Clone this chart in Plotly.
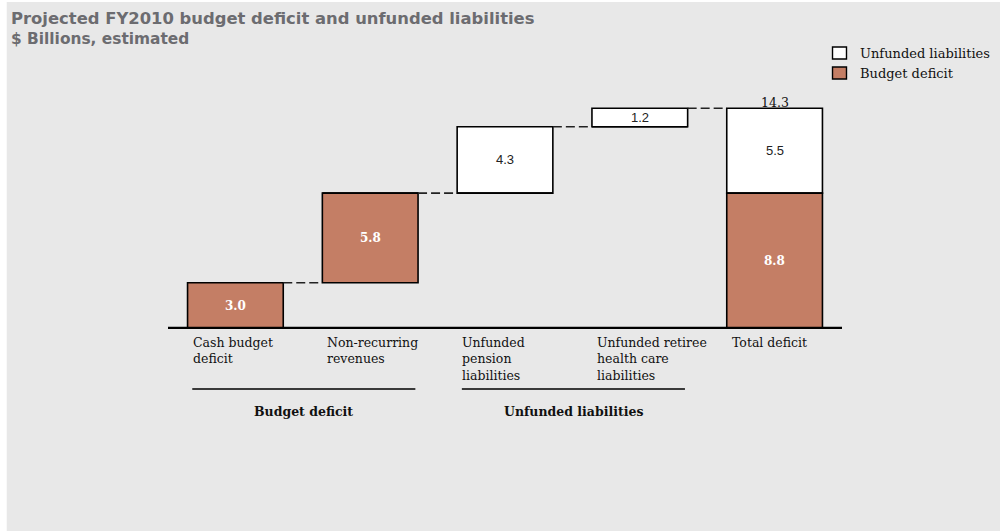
import plotly.graph_objects as go

# Waterfall steps (in $ billions)
categories = ["Cash budget<br>deficit", "Non-recurring<br>revenues", "Unfunded<br>pension<br>liabilities",
              "Unfunded retiree<br>health care<br>liabilities", "Total deficit"]
budget_deficit = [3.0, 5.8, 0.0, 0.0, 8.8]
unfunded_liabilities = [0.0, 0.0, 4.3, 1.2, 5.5]
total_label = "14.3"
groups = [("Budget deficit", 0, 1), ("Unfunded liabilities", 2, 3)]

BROWN = "#c47e65"
BG = "#e8e8e8"
TITLE_GRAY = "#6c6c70"
SERIF = "DejaVu Serif"
SANS = "Liberation Sans"
TITLE_FONT = "DejaVu Sans"
BAR_W = 0.71

# Plot-area geometry in pixels (used to place items outside the axes)
W, H = 1000, 531
ML, MR, MT, MB = 167.5, 157.5, 82, 202
PW, PH = W - ML - MR, H - MT - MB


def px_x(px):
    return (px - ML) / PW


def px_y(py):
    return (H - MB - py) / PH


n = len(categories)
x = list(range(n))

# Bases: the steps accumulate, the final bar stacks budget deficit under unfunded liabilities
budget_base, unfunded_base, tops = [], [], []
running = 0.0
for i in range(n):
    if i < n - 1:
        budget_base.append(running)
        unfunded_base.append(running + budget_deficit[i])
        running += budget_deficit[i] + unfunded_liabilities[i]
        tops.append(running)
    else:
        budget_base.append(0.0)
        unfunded_base.append(budget_deficit[i])
        tops.append(budget_deficit[i] + unfunded_liabilities[i])

series_styles = [("Unfunded liabilities", "white"), ("Budget deficit", BROWN)]

fig = go.Figure()
fig.add_trace(go.Bar(
    x=x, y=unfunded_liabilities, base=unfunded_base, width=BAR_W,
    name="Unfunded liabilities", showlegend=False,
    marker=dict(color="white", line=dict(color="black", width=1.6)),
    hoverinfo="skip",
))
fig.add_trace(go.Bar(
    x=x, y=budget_deficit, base=budget_base, width=BAR_W,
    name="Budget deficit", showlegend=False,
    marker=dict(color=BROWN, line=dict(color="black", width=1.6)),
    hoverinfo="skip",
))

# Dashed connectors between consecutive bars
for i in range(n - 1):
    fig.add_trace(go.Scatter(
        x=[i + BAR_W / 2, i + 1 - BAR_W / 2], y=[tops[i], tops[i]],
        mode="lines", line=dict(color="#222222", width=1.6, dash="9px,4px"),
        showlegend=False, hoverinfo="skip",
    ))

annotations = []
# Value labels inside bars
for i in range(n):
    if budget_deficit[i] > 0:
        annotations.append(dict(
            x=i, y=budget_base[i] + budget_deficit[i] / 2, text=f"<b>{budget_deficit[i]:.1f}</b>",
            showarrow=False, font=dict(family=SERIF, size=12, color="white"),
        ))
    if unfunded_liabilities[i] > 0:
        annotations.append(dict(
            x=i, y=unfunded_base[i] + unfunded_liabilities[i] / 2, text=f"{unfunded_liabilities[i]:.1f}",
            showarrow=False, font=dict(family=SANS, size=13, color="#222222"),
        ))
annotations.append(dict(
    x=n - 1, y=tops[-1], text=total_label, showarrow=False, yanchor="bottom", yshift=-4,
    font=dict(family=SERIF, size=12.5, color="#111111"),
))

# Category labels, left-aligned under each bar
for i, c in enumerate(categories):
    annotations.append(dict(
        x=i - BAR_W / 2, y=0, xref="x", yref="y", text=c, showarrow=False,
        xanchor="left", yanchor="top", align="left", xshift=3, yshift=-4,
        font=dict(family=SERIF, size=12.5, color="#111111"),
    ))

shapes = []
# Group brackets under the category labels
for name, a, b in groups:
    x0, x1 = a - 0.32, b + 0.335
    shapes.append(dict(type="line", xref="x", yref="paper", x0=x0, x1=x1,
                       y0=px_y(389), y1=px_y(389), line=dict(color="black", width=1.3)))
    annotations.append(dict(
        x=(x0 + x1) / 2, y=px_y(411), xref="x", yref="paper",
        text=f"<b>{name}</b>", showarrow=False, xanchor="center", yanchor="middle",
        font=dict(family=SERIF, size=12.5, color="#111111"),
    ))

# Baseline
shapes.append(dict(type="line", xref="x", yref="y", x0=-0.5, x1=n - 0.5, y0=0, y1=0,
                   line=dict(color="black", width=4.5), layer="above"))
# White edge strips around the panel
shapes.append(dict(type="rect", xref="paper", yref="paper", x0=px_x(-50), x1=px_x(6),
                   y0=px_y(600), y1=px_y(-50), fillcolor="white", line=dict(width=0), layer="below"))
shapes.append(dict(type="rect", xref="paper", yref="paper", x0=px_x(-50), x1=px_x(1050),
                   y0=px_y(2), y1=px_y(-50), fillcolor="white", line=dict(width=0), layer="below"))

# Legend: swatch boxes with labels, top right
for k, (label, color) in enumerate(series_styles):
    top = 47 + 20 * k
    shapes.append(dict(type="rect", xref="paper", yref="paper",
                       x0=px_x(833), x1=px_x(847), y0=px_y(top + 12), y1=px_y(top),
                       fillcolor=color, line=dict(color="black", width=1.4)))
    annotations.append(dict(
        x=px_x(859), y=px_y(top + 6.5), xref="paper", yref="paper", text=label,
        showarrow=False, xanchor="left", yanchor="middle",
        font=dict(family=SERIF, size=13, color="#111111"),
    ))

# Title and subtitle
annotations.append(dict(
    x=px_x(8), y=px_y(19), xref="paper", yref="paper",
    text="<b>Projected FY2010 budget deficit and unfunded liabilities</b>",
    showarrow=False, xanchor="left", yanchor="middle",
    font=dict(family=TITLE_FONT, size=16.4, color=TITLE_GRAY),
))
annotations.append(dict(
    x=px_x(8), y=px_y(39), xref="paper", yref="paper",
    text="<b>$ Billions, estimated</b>", showarrow=False, xanchor="left", yanchor="middle",
    font=dict(family=TITLE_FONT, size=15.4, color=TITLE_GRAY),
))

fig.update_layout(
    width=W, height=H,
    margin=dict(l=ML, r=MR, t=MT, b=MB),
    paper_bgcolor=BG, plot_bgcolor=BG,
    barmode="overlay",
    showlegend=False,
    xaxis=dict(range=[-0.5, n - 0.5], visible=False, fixedrange=True),
    yaxis=dict(range=[0, 16], visible=False, fixedrange=True),
    shapes=shapes,
    annotations=annotations,
)

fig.write_html("out.html")
